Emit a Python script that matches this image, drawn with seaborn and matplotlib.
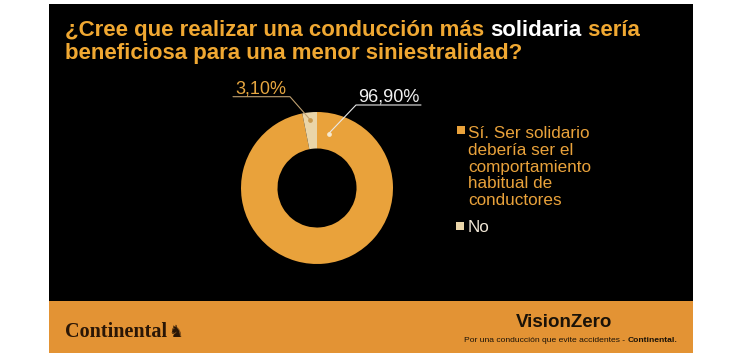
import numpy as np
import matplotlib
matplotlib.use("Agg")
import matplotlib.pyplot as plt
from matplotlib.patches import Rectangle
import seaborn as sns

# datos de la encuesta
respuestas = ["Sí. Ser solidario\ndebería ser el\ncomportamiento\nhabitual de\nconductores", "No"]
porcentajes = [96.9, 3.1]
colores = ["#E9A23B", "#EAD5A8"]

titulo_1 = ["¿Cree que realizar una conducción más ", "solidaria", " sería"]
titulo_2 = "beneficiosa para una menor siniestralidad?"

sns.set_theme(style="white")
plt.rcParams['font.family'] = ['Liberation Sans', 'DejaVu Sans']

fig = plt.figure(figsize=(7.5, 3.6), dpi=100, facecolor="white")

# fondo en coordenadas de pixel
ax_bg = fig.add_axes([0, 0, 1, 1])
ax_bg.set_xlim(0, 750)
ax_bg.set_ylim(360, 0)
ax_bg.axis("off")
ax_bg.add_patch(Rectangle((49.3, 4), 644, 296.7, color="black", lw=0))
ax_bg.add_patch(Rectangle((49.3, 300.7), 644, 52, color="#E39334", lw=0))

# titulo con "solidaria" en blanco
naranja_titulo = "#F0A832"
fs_tit = 16
t = ax_bg.text(65, 36, titulo_1[0], color=naranja_titulo, fontsize=fs_tit,
               fontweight="bold", va="baseline", ha="left")
t = ax_bg.annotate(titulo_1[1], xy=(1, 0), xycoords=t, va="bottom", ha="left",
                   color="white", fontsize=fs_tit, fontweight="bold")
ax_bg.annotate(titulo_1[2], xy=(1, 0), xycoords=t, va="bottom", ha="left",
               color=naranja_titulo, fontsize=fs_tit, fontweight="bold")
ax_bg.text(65, 58.5, titulo_2, color=naranja_titulo, fontsize=fs_tit,
           fontweight="bold", va="baseline", ha="left")

# donut
cx, cy, r = 317, 188, 76
ax_pie = fig.add_axes([(cx - r) / 750, (360 - cy - r) / 360, 2 * r / 750, 2 * r / 360])
wedges, _ = ax_pie.pie(porcentajes, colors=colores, startangle=90, counterclock=False,
                       radius=1, wedgeprops=dict(width=0.48, edgecolor="none"))
ax_pie.set_xlim(-1, 1)
ax_pie.set_ylim(-1, 1)
ax_pie.set_aspect("equal")
ax_pie.axis("off")

# capa transparente encima del donut para etiquetas y lineas guia
ax_top = fig.add_axes([0, 0, 1, 1])
ax_top.set_xlim(0, 750)
ax_top.set_ylim(360, 0)
ax_top.axis("off")
ax_top.patch.set_alpha(0)


def a_pixel(ang, rad):
    x = rad * np.cos(np.radians(ang))
    y = rad * np.sin(np.radians(ang))
    disp = ax_pie.transData.transform((x, y))
    return ax_top.transData.inverted().transform(disp)


etiquetas = [f"{p:.2f}%".replace(".", ",") for p in porcentajes]

# etiqueta del sí (blanca, a la derecha)
w = wedges[0]
px, py = a_pixel(w.theta2 - 12, 0.73)
ax_top.text(358, 102, etiquetas[0], color="#F2F2F2", fontsize=13, va="baseline", ha="left")
ax_top.plot([421, 356, px], [105, 105, py], color="#E8E8E8", lw=0.8)
ax_top.plot(px, py, "o", color="#F6EAD0", ms=2.4)

# etiqueta del no (naranja, a la izquierda)
w = wedges[1]
px, py = a_pixel((w.theta1 + w.theta2) / 2, 0.9)
ax_top.text(235, 93, etiquetas[1], color="#E6A640", fontsize=13, va="baseline", ha="left")
ax_top.plot([233, 290, px], [96.7, 96.7, py], color="#BFA070", lw=0.8)
ax_top.plot(px, py, "o", color="#C99A4E", ms=2.4)

# leyenda (el texto multilinea se ancla en la linea base de la ultima linea)
ax_top.scatter([461, 460], [130, 226], marker="s", s=38, c=colores, linewidths=0)
ax_top.text(468, 204.7, respuestas[0], color="#E9A23B", fontsize=12.3,
            va="baseline", ha="left", linespacing=1.13)
ax_top.text(468, 231.7, respuestas[1], color="#F0E6D6", fontsize=12.3,
            va="baseline", ha="left")

# pie de pagina
ax_top.text(65, 336.7, "Continental", color="#2A1606", fontsize=14.5,
            fontweight="bold", family=["Liberation Serif"], va="baseline", ha="left")
ax_top.text(168, 336.7, "♞", color="#2A1606", fontsize=12, family=["DejaVu Sans"],
            va="baseline", ha="left")
ax_top.text(612, 326.7, "VisionZero", color="#1A1208", fontsize=13.5,
            fontweight="bold", va="baseline", ha="right")
b = ax_top.text(677.3, 341.7, "Continental.", color="#1A1208", fontsize=6.1,
                fontweight="bold", va="baseline", ha="right")
ax_top.annotate("Por una conducción que evite accidentes - ", xy=(0, 0), xycoords=b,
                va="bottom", ha="right", color="#1A1208", fontsize=6.1)

fig.savefig("out.png", dpi=100, facecolor="white")
